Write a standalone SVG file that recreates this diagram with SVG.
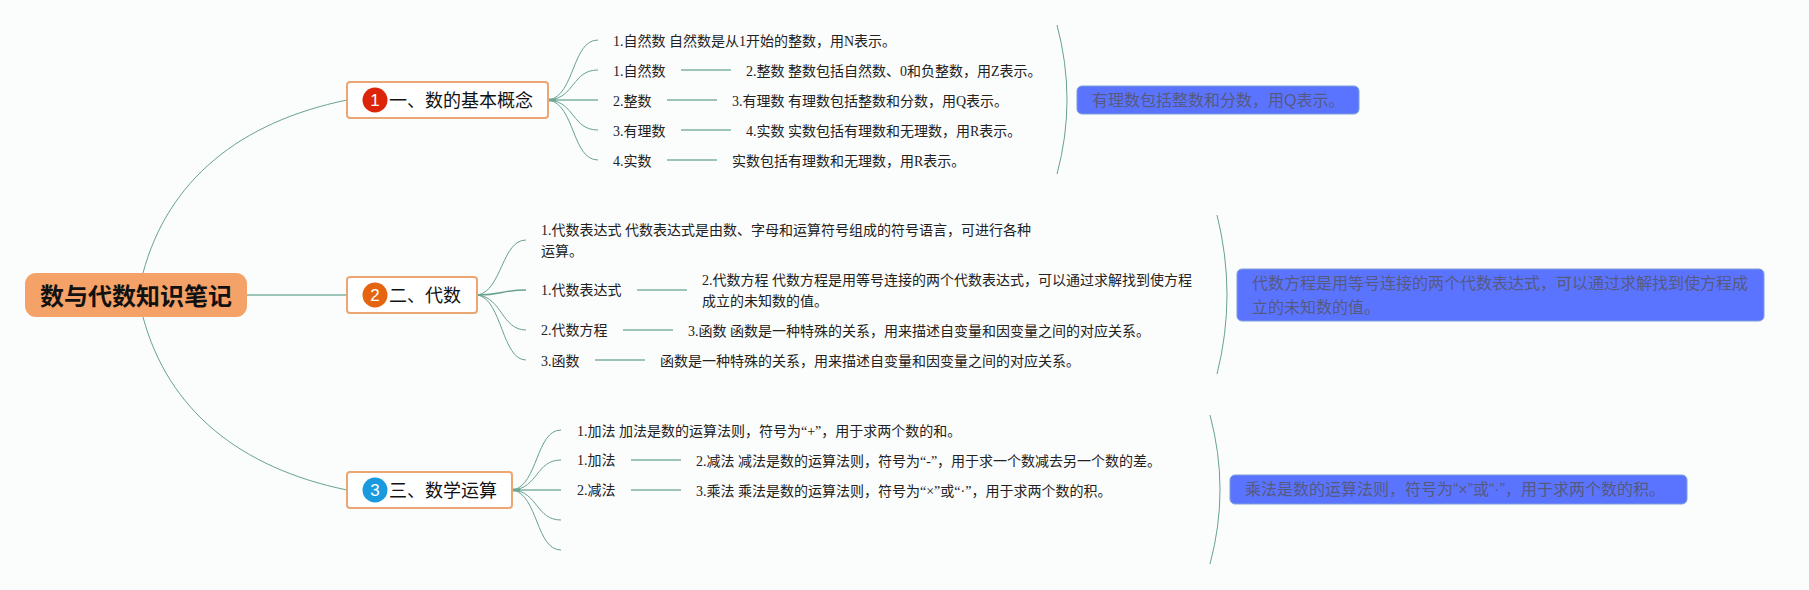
<svg xmlns="http://www.w3.org/2000/svg" width="1809" height="590" viewBox="0 0 1809 590">
<style>
.c{fill:none;stroke:#68a290;stroke-width:1}
.s{fill:none;stroke:#9cc5b6;stroke-width:2}
.j{fill:none;stroke:#6fa595;stroke-width:3}
.t{font-family:"Liberation Serif","Noto Sans CJK SC",serif;font-size:14px;fill:#222}
.b{fill:#fff;stroke:#eba673;stroke-width:2}
.bt{font-family:"Liberation Sans","Noto Sans CJK SC",sans-serif;font-size:18px;fill:#111}
.n{font-family:"Liberation Sans","Noto Sans CJK SC",sans-serif;font-size:17px;fill:#fff;text-anchor:middle}
.p{fill:#5b74ff;stroke:#7f9fd8;stroke-width:1}
.pt{font-family:"Liberation Sans","Noto Sans CJK SC",sans-serif;font-size:16px;fill:#565a80}
</style>
<rect width="1809" height="590" fill="#fbfcfc"/>
<g id="connectors">
<path class="c" d="M143 273C168 180 240 122 347 100"/>
<path class="c" d="M143 317C168 410 240 468 347 490"/>
<path class="s" d="M247 295H347"/>
<path class="c" d="M549 100C575 95 572 40 598 40"/>
<path class="c" d="M549 100C575 98 572 70 598 70"/>
<path class="s" d="M549 100H598"/>
<path class="c" d="M549 100C575 102 572 130 598 130"/>
<path class="c" d="M549 100C575 105 572 160 598 160"/>
<path class="j" d="M549 100H556"/>
<path class="s" d="M681 70H731M667 100H717M681 130H731M667 160H717"/>
<path class="c" d="M478 295C502 290 502 240 526 240"/>
<path class="c" d="M478 295C502 295 502 290 526 290" style="stroke-width:1.5"/>
<path class="c" d="M478 295C502 298 502 330 526 330"/>
<path class="c" d="M478 295C502 300 502 360 526 360"/>
<path class="s" d="M637 290H687M623 330H673M595 360H645"/>
<path class="c" d="M513 490C538 485 536 430 561 430"/>
<path class="c" d="M513 490C538 488 536 460 561 460"/>
<path class="s" d="M513 490H561"/>
<path class="c" d="M513 490C538 492 536 520 561 520"/>
<path class="c" d="M513 490C538 495 536 550 561 550"/>
<path class="j" d="M513 490H520"/>
<path class="s" d="M631 460H681M631 490H681"/>
<path class="c" d="M1057 25Q1077 100 1057 174"/>
<path class="c" d="M1217 215Q1237 295 1217 374"/>
<path class="c" d="M1210 415Q1230 490 1210 564"/>
</g>
<g id="root">
<rect x="25" y="273" width="222" height="44" rx="11" fill="#f4a267"/>
<text x="40" y="305" font-family="'Liberation Sans','Noto Sans CJK SC',sans-serif" font-size="24" font-weight="700" fill="#111">数与代数知识笔记</text>
</g>
<g id="branch1">
<rect class="b" x="347" y="82" width="201" height="36" rx="3"/>
<circle cx="375" cy="100" r="12.5" fill="#dc2508"/>
<text class="n" x="375" y="106">1</text>
<text class="bt" x="389" y="107">一、数的基本概念</text>
</g>
<g id="branch2">
<rect class="b" x="347" y="277" width="130" height="36" rx="3"/>
<circle cx="375" cy="295" r="12.5" fill="#e5640f"/>
<text class="n" x="375" y="301">2</text>
<text class="bt" x="389" y="302">二、代数</text>
</g>
<g id="branch3">
<rect class="b" x="347" y="472" width="165" height="36" rx="3"/>
<circle cx="375" cy="490" r="12.5" fill="#1a9ade"/>
<text class="n" x="375" y="496">3</text>
<text class="bt" x="389" y="497">三、数学运算</text>
</g>
<g id="items1">
<text class="t" x="613" y="46">1.自然数 自然数是从1开始的整数，用N表示。</text>
<text class="t" x="613" y="76">1.自然数</text>
<text class="t" x="746" y="76">2.整数 整数包括自然数、0和负整数，用Z表示。</text>
<text class="t" x="613" y="106">2.整数</text>
<text class="t" x="732" y="106">3.有理数 有理数包括整数和分数，用Q表示。</text>
<text class="t" x="613" y="136">3.有理数</text>
<text class="t" x="746" y="136">4.实数 实数包括有理数和无理数，用R表示。</text>
<text class="t" x="613" y="166">4.实数</text>
<text class="t" x="732" y="166">实数包括有理数和无理数，用R表示。</text>
</g>
<g id="items2">
<text class="t" x="541" y="235">1.代数表达式 代数表达式是由数、字母和运算符号组成的符号语言，可进行各种</text>
<text class="t" x="541" y="256">运算。</text>
<text class="t" x="541" y="295">1.代数表达式</text>
<text class="t" x="702" y="285">2.代数方程 代数方程是用等号连接的两个代数表达式，可以通过求解找到使方程</text>
<text class="t" x="702" y="306">成立的未知数的值。</text>
<text class="t" x="541" y="335">2.代数方程</text>
<text class="t" x="688" y="336">3.函数 函数是一种特殊的关系，用来描述自变量和因变量之间的对应关系。</text>
<text class="t" x="541" y="366">3.函数</text>
<text class="t" x="660" y="366">函数是一种特殊的关系，用来描述自变量和因变量之间的对应关系。</text>
</g>
<g id="items3">
<text class="t" x="577" y="436">1.加法 加法是数的运算法则，符号为“+”，用于求两个数的和。</text>
<text class="t" x="577" y="465">1.加法</text>
<text class="t" x="696" y="466">2.减法 减法是数的运算法则，符号为“-”，用于求一个数减去另一个数的差。</text>
<text class="t" x="577" y="495">2.减法</text>
<text class="t" x="696" y="496">3.乘法 乘法是数的运算法则，符号为“×”或“·”，用于求两个数的积。</text>
</g>
<g id="note1">
<rect class="p" x="1077" y="86" width="282" height="28" rx="5"/>
<text class="pt" x="1092" y="106">有理数包括整数和分数，用Q表示。</text>
</g>
<g id="note2">
<rect class="p" x="1237" y="269" width="527" height="52" rx="5"/>
<text class="pt" x="1252" y="289">代数方程是用等号连接的两个代数表达式，可以通过求解找到使方程成</text>
<text class="pt" x="1252" y="313">立的未知数的值。</text>
</g>
<g id="note3">
<rect class="p" x="1230" y="475" width="457" height="29" rx="5"/>
<text class="pt" x="1245" y="495">乘法是数的运算法则，符号为“×”或“·”，用于求两个数的积。</text>
</g>
</svg>
